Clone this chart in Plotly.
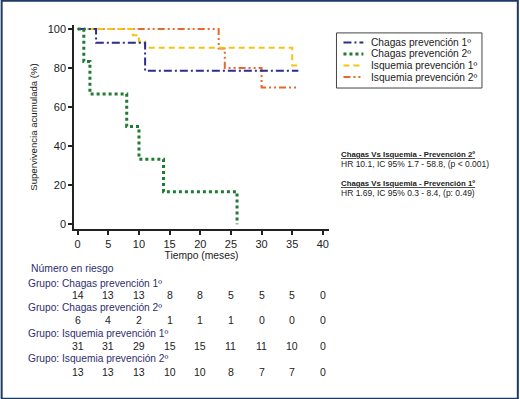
import plotly.graph_objects as go

# ---- data ----
t_chagas1 = [0, 3, 11, 36]
s_chagas1 = [100, 92.9, 78.6, 78.6]
t_chagas2 = [0, 1, 2, 8, 10, 14, 26]
s_chagas2 = [100, 83.3, 66.7, 50, 33.3, 16.7, 0]
t_isq1 = [0, 9, 10, 11, 35, 36]
s_isq1 = [100, 96.8, 93.5, 90.3, 81.3, 81.3]
t_isq2 = [0, 23, 24, 30, 36]
s_isq2 = [100, 90, 80, 70, 70]

names = ["Chagas prevención 1º", "Chagas prevención 2º",
         "Isquemia prevención 1º", "Isquemia prevención 2º"]
risk_times = [0, 5, 10, 15, 20, 25, 30, 35, 40]
risk_chagas1 = [14, 13, 13, 8, 8, 5, 5, 5, 0]
risk_chagas2 = [6, 4, 2, 1, 1, 1, 0, 0, 0]
risk_isq1 = [31, 31, 29, 15, 15, 11, 11, 10, 0]
risk_isq2 = [13, 13, 13, 10, 10, 8, 7, 7, 0]

W, H = 520, 399
L, R, T, B = 73.6, 190.5, 25.1, 170.3
PW = W - L - R
PH = H - T - B

def px(x):
    return (x - L) / PW

def py(y):
    return (H - B - y) / PH

FONT = "Liberation Sans, Arial, sans-serif"

fig = go.Figure()
styles = [
    ("#2b2d8f", "8px,3px,2px,3px", 2),
    ("#1f7a33", "dot", 3),
    ("#f4c314", "6px,4px", 2),
    ("#e8672a", "7px,3px,2px,3px,2px,3px", 2),
]
series = [(t_isq2, s_isq2, 3), (t_isq1, s_isq1, 2), (t_chagas1, s_chagas1, 0), (t_chagas2, s_chagas2, 1)]
for t, s, i in series:
    col, dash, w = styles[i]
    fig.add_trace(go.Scatter(x=t, y=s, mode="lines", line=dict(color=col, dash=dash, width=w, shape="hv"),
                             name=names[i], showlegend=False))

fig.update_layout(
    width=W, height=H,
    margin=dict(l=L, r=R, t=T, b=B, pad=0),
    paper_bgcolor="white", plot_bgcolor="white",
    font=dict(family=FONT, size=11, color="#222"),
    showlegend=False,
    xaxis=dict(range=[-0.6, 41], tickvals=[0, 5, 10, 15, 20, 25, 30, 35, 40],
               showline=True, linecolor="#222", linewidth=1.5, ticks="outside",
               ticklen=4, tickwidth=1.5, tickcolor="#222", showgrid=False, zeroline=False,
               tickfont=dict(size=11, color="#222"),
               title=dict(text="Tiempo (meses)", font=dict(size=10.3, color="#222"), standoff=2)),
    yaxis=dict(range=[-2.4, 102], tickvals=[0, 20, 40, 60, 80, 100],
               showline=True, linecolor="#222", linewidth=1.5, ticks="outside",
               ticklen=4, tickwidth=1.5, tickcolor="#222", showgrid=False, zeroline=False,
               tickfont=dict(size=11, color="#222"),
               title=dict(text="Supervivencia acumulada (%)", font=dict(size=9.6, color="#222"), standoff=8)),
)

# legend box (drawn manually for tight row spacing)
fig.add_shape(type="rect", xref="paper", yref="paper", x0=px(337), x1=px(483), y0=py(88), y1=py(33),
              line=dict(color="#444", width=1), fillcolor="white")
leg_y = [42.5, 54, 65.5, 77]
for i in range(4):
    col, dash, w = styles[i]
    fig.add_shape(type="line", xref="paper", yref="paper", x0=px(344), x1=px(364),
                  y0=py(leg_y[i]), y1=py(leg_y[i]), line=dict(color=col, dash=dash, width=w))
    fig.add_annotation(xref="paper", yref="paper", x=px(370), y=py(leg_y[i]), xanchor="left",
                       yanchor="middle", showarrow=False, text=names[i],
                       font=dict(size=10.2, color="#222"))

ann = [
    (154, "<b><u>Chagas Vs Isquemia - Prevención 2º</u></b>", 7.8),
    (164, "HR 10.1, IC 95% 1.7 - 58.8, (p < 0.001)", 8.5),
    (183, "<b><u>Chagas Vs Isquemia - Prevención 1º</u></b>", 7.8),
    (193, "HR 1.69, IC 95% 0.3 - 8.4, (p: 0.49)", 8.5),
]
for yy, txt, fs in ann:
    fig.add_annotation(xref="paper", yref="paper", x=px(340), y=py(yy), xanchor="left", yanchor="middle",
                       showarrow=False, text=txt, font=dict(size=fs, color="#222"))

label_col = "#2e2e6e"
fig.add_annotation(xref="paper", yref="paper", x=px(28.5), y=py(268), xanchor="left", yanchor="middle",
                   showarrow=False, text="Número en riesgo", font=dict(size=10.4, color=label_col))
rows = [risk_chagas1, risk_chagas2, risk_isq1, risk_isq2]
label_y = [283, 307, 333, 358]
num_y = [295, 320, 345, 371]
for i, r in enumerate(rows):
    fig.add_annotation(xref="paper", yref="paper", x=px(25), y=py(label_y[i]), xanchor="left",
                       yanchor="middle", showarrow=False, text="Grupo: " + names[i],
                       font=dict(size=10.2, color=label_col))
    for tx, v in zip(risk_times, r):
        fig.add_annotation(xref="x", yref="paper", x=tx, y=py(num_y[i]), xanchor="center",
                           yanchor="middle", showarrow=False, text=str(v),
                           font=dict(size=10.5, color="#222"))

fig.add_shape(type="rect", xref="paper", yref="paper", x0=px(1), x1=px(519), y0=py(398), y1=py(1),
              line=dict(color="#1d3a62", width=2), fillcolor="rgba(0,0,0,0)", layer="above")

fig.write_html("out.html", config={"displayModeBar": False},
               post_script="document.body.style.margin='0';document.body.style.padding='0';")
